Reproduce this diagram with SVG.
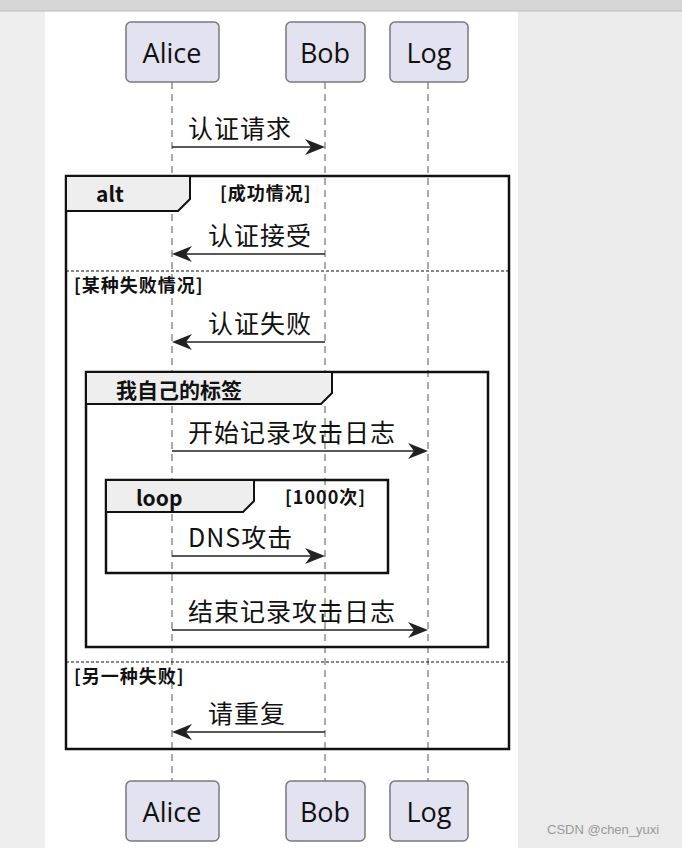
<svg xmlns="http://www.w3.org/2000/svg" width="682" height="848" viewBox="0 0 682 848">
<style>
.p rect{fill:#e2e2f0;stroke:#7a7a7a;stroke-width:1.5}
.p text{font-family:"Open Sans","Noto Sans CJK SC",sans-serif;font-size:27px;fill:#111;text-anchor:middle}
.life{stroke:#555;stroke-width:1;stroke-dasharray:7 5}
.msg line{stroke:#222;stroke-width:1.5}
.msg polygon{fill:#222}
.msg text{font-family:"Noto Sans CJK SC",sans-serif;font-size:25px;letter-spacing:1px;fill:#111}
.fr{fill:none;stroke:#111;stroke-width:2.5}
.tab{fill:#eeeeee;stroke:#111;stroke-width:2}
.ft{font-family:"Noto Sans CJK SC",sans-serif;font-weight:bold;font-size:21px;fill:#111}
.gd{font-family:"Noto Sans CJK SC",sans-serif;font-weight:bold;font-size:18px;letter-spacing:1px;fill:#111}
.sep{stroke:#111;stroke-width:1.2;stroke-dasharray:3 2}
</style>
<rect width="682" height="848" fill="#ebebeb"/>
<rect x="0" y="0" width="45" height="848" fill="#eeeeee"/>
<rect x="45" y="11" width="473" height="837" fill="#ffffff"/>
<rect x="0" y="0" width="682" height="11" fill="#d6d6d6"/>
<line x1="0" y1="11" x2="682" y2="11" stroke="#bbb"/>
<g id="lifelines">
<line class="life" x1="172" y1="82" x2="172" y2="781"/>
<line class="life" x1="325" y1="82" x2="325" y2="781"/>
<line class="life" x1="428" y1="82" x2="428" y2="781"/>
</g>
<g id="alice-top" class="p"><rect x="126" y="22" width="93" height="60" rx="5"/><text x="172" y="63">Alice</text></g>
<g id="bob-top" class="p"><rect x="286" y="22" width="79" height="60" rx="5"/><text x="325" y="63">Bob</text></g>
<g id="log-top" class="p"><rect x="390" y="22" width="78" height="60" rx="5"/><text x="429" y="63">Log</text></g>
<g id="alice-bot" class="p"><rect x="126" y="781" width="93" height="60" rx="5"/><text x="172" y="822">Alice</text></g>
<g id="bob-bot" class="p"><rect x="286" y="781" width="79" height="60" rx="5"/><text x="325" y="822">Bob</text></g>
<g id="log-bot" class="p"><rect x="390" y="781" width="78" height="60" rx="5"/><text x="429" y="822">Log</text></g>
<g id="alt">
<rect class="fr" x="66" y="176" width="443" height="573"/>
<path class="tab" d="M66,176 H190 V199 L178,211 H66 Z"/>
<text class="ft" x="96" y="202">alt</text>
<text class="gd" x="220" y="200">[成功情况]</text>
<line class="sep" x1="66" y1="271" x2="509" y2="271"/>
<text class="gd" x="74" y="292">[某种失败情况]</text>
<line class="sep" x1="66" y1="662" x2="509" y2="662"/>
<text class="gd" x="74" y="683">[另一种失败]</text>
</g>
<g id="group">
<rect class="fr" x="86" y="372" width="402" height="275"/>
<path class="tab" d="M86,372 H332 V393 L321,404 H86 Z"/>
<text class="ft" x="116" y="398">我自己的标签</text>
</g>
<g id="loop">
<rect class="fr" x="106" y="480" width="282" height="93"/>
<path class="tab" d="M106,480 H254 V501 L243,512 H106 Z"/>
<text class="ft" x="136" y="506">loop</text>
<text class="gd" x="285" y="504">[1000次]</text>
</g>
<g id="messages" class="msg">
<line x1="172" y1="147" x2="322" y2="147"/><polygon points="325,147 305,139 311,147 305,155"/><text x="188" y="138">认证请求</text>
<line x1="175" y1="254" x2="325" y2="254"/><polygon points="172,254 192,246 186,254 192,262"/><text x="208" y="245">认证接受</text>
<line x1="175" y1="342" x2="325" y2="342"/><polygon points="172,342 192,334 186,342 192,350"/><text x="208" y="333">认证失败</text>
<line x1="172" y1="451" x2="425" y2="451"/><polygon points="428,451 408,443 414,451 408,459"/><text x="188" y="442">开始记录攻击日志</text>
<line x1="172" y1="556" x2="322" y2="556"/><polygon points="325,556 305,548 311,556 305,564"/><text x="188" y="547">DNS攻击</text>
<line x1="172" y1="630" x2="425" y2="630"/><polygon points="428,630 408,622 414,630 408,638"/><text x="188" y="621">结束记录攻击日志</text>
<line x1="175" y1="732" x2="325" y2="732"/><polygon points="172,732 192,724 186,732 192,740"/><text x="208" y="723">请重复</text>
</g>
<text x="547" y="834" font-family="Liberation Sans,sans-serif" font-size="13" fill="#999">CSDN @chen_yuxi</text>
</svg>
